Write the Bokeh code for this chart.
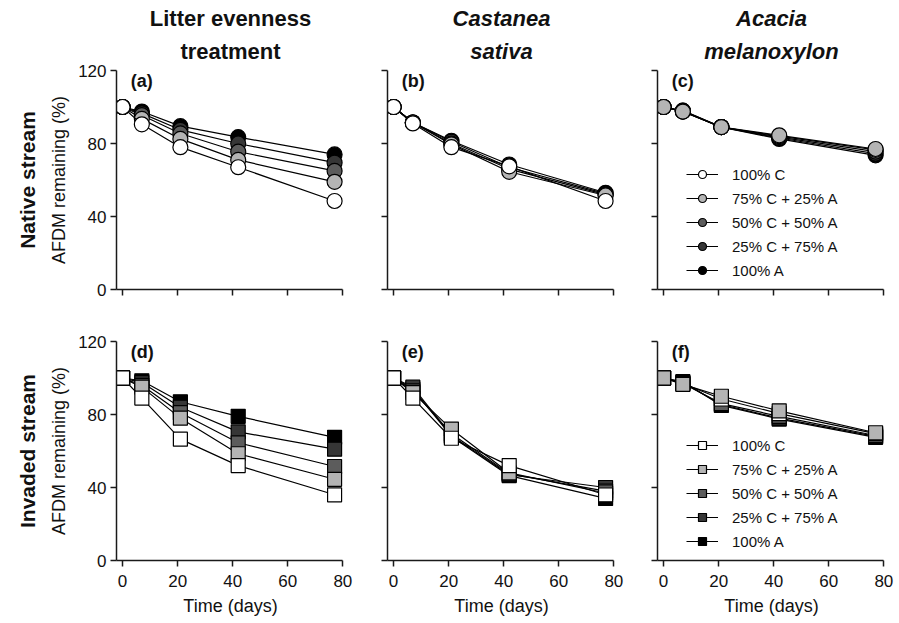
from bokeh.plotting import figure
from bokeh.models import Range1d, FixedTicker, Title, Legend, LegendItem, Label
from bokeh.layouts import row, column
from bokeh.embed import file_html
from bokeh.resources import INLINE

FONT = "Liberation Sans"

days = [0, 7, 21, 42, 77]
series_labels = ["100% C", "75% C + 25% A", "50% C + 50% A", "25% C + 75% A", "100% A"]
fill_colors = ["#ffffff", "#b4b4b4", "#5c5c5c", "#363636", "#000000"]
x_ticks = [0, 20, 40, 60, 80]
y_ticks = [0, 40, 80, 120]
col_titles = [["Litter evenness", "treatment"], ["Castanea", "sativa"], ["Acacia", "melanoxylon"]]
row_titles = ["Native stream", "Invaded stream"]
panel_tags = ["(a)", "(b)", "(c)", "(d)", "(e)", "(f)"]

# Native stream
a_100C = [100, 90.5, 78.0, 67.0, 48.5]
a_75C = [100, 93.5, 82.5, 71.0, 59.0]
a_50C = [100, 95.5, 85.5, 75.5, 65.0]
a_25C = [100, 96.5, 87.5, 80.0, 69.5]
a_100A = [100, 97.5, 89.5, 83.5, 74.0]

b_100C = [100, 91.0, 78.0, 67.5, 48.5]
b_75C = [100, 91.5, 79.5, 64.5, 51.5]
b_50C = [100, 91.5, 80.0, 66.0, 52.0]
b_25C = [100, 91.5, 81.0, 67.0, 52.5]
b_100A = [100, 91.5, 81.5, 68.5, 53.0]

c_100C = [100, 97.5, 89.0, 84.0, 76.5]
c_75C = [100, 97.5, 89.0, 84.5, 77.0]
c_50C = [100, 97.5, 89.0, 83.5, 75.5]
c_25C = [100, 98.0, 89.0, 83.0, 74.5]
c_100A = [100, 98.0, 89.0, 82.5, 73.5]

# Invaded stream
d_100C = [100, 89.0, 66.5, 52.0, 36.0]
d_75C = [100, 95.0, 78.0, 58.5, 44.5]
d_50C = [100, 96.0, 81.0, 64.5, 51.5]
d_25C = [100, 97.5, 84.0, 70.5, 61.0]
d_100A = [100, 98.5, 87.0, 79.0, 67.5]

e_100C = [100, 89.0, 67.0, 52.0, 36.0]
e_75C = [100, 92.0, 72.0, 48.0, 37.0]
e_50C = [100, 93.0, 69.5, 47.5, 38.0]
e_25C = [100, 95.0, 68.5, 47.0, 40.0]
e_100A = [100, 94.0, 68.0, 46.5, 34.0]

f_100C = [100, 97.0, 88.5, 80.5, 69.5]
f_75C = [100, 96.5, 90.0, 82.0, 70.0]
f_50C = [100, 97.0, 86.0, 79.0, 68.5]
f_25C = [100, 97.5, 85.5, 78.0, 68.0]
f_100A = [100, 98.0, 85.0, 77.5, 67.5]

panels = [
    [a_100C, a_75C, a_50C, a_25C, a_100A],
    [b_100C, b_75C, b_50C, b_25C, b_100A],
    [c_100C, c_75C, c_50C, c_25C, c_100A],
    [d_100C, d_75C, d_50C, d_25C, d_100A],
    [e_100C, e_75C, e_50C, e_25C, e_100A],
    [f_100C, f_75C, f_50C, f_25C, f_100A],
]

FRAME_W = 228
FRAME_H = 219
borders_lr = [(116, 21), (22, 21), (21, 9)]
AXIS_COL = "#1a1a1a"


def make_panel(idx):
    r, c = divmod(idx, 3)
    left, right = borders_lr[c]
    top = 70 if r == 0 else 26
    bottom = 26 if r == 0 else 58
    p = figure(width=left + FRAME_W + right, height=top + FRAME_H + bottom,
               x_range=Range1d(-2.2, 80.6), y_range=Range1d(0, 120),
               output_backend="svg", toolbar_location=None,
               min_border_left=left, min_border_right=right,
               min_border_top=top, min_border_bottom=bottom)
    p.outline_line_color = None
    p.grid.grid_line_color = None
    p.background_fill_color = "white"
    p.border_fill_color = "white"

    for ax in (p.xaxis[0], p.yaxis[0]):
        ax.axis_line_width = 1.5
        ax.axis_line_color = AXIS_COL
        ax.major_tick_line_width = 1.5
        ax.major_tick_line_color = AXIS_COL
        ax.major_tick_in = 0
        ax.major_tick_out = 6
        ax.minor_tick_line_color = None
        ax.major_label_text_font = FONT
        ax.major_label_text_font_size = "17px"
        ax.major_label_text_color = "#111111"
        ax.axis_label_text_font = FONT
        ax.axis_label_text_font_style = "normal"
        ax.axis_label_text_font_size = "18px"
        ax.axis_label_text_color = "#111111"

    p.xaxis.ticker = FixedTicker(ticks=x_ticks)
    p.xaxis.bounds = (-2.2, 80)
    p.yaxis.ticker = FixedTicker(ticks=y_ticks)
    p.xaxis.major_label_standoff = 8
    p.yaxis.major_label_standoff = 4

    if r == 1:
        p.xaxis.axis_label = "Time (days)"
        p.xaxis.axis_label_standoff = 6
    else:
        p.xaxis.major_label_overrides = {t: "" for t in x_ticks}
    if c == 0:
        p.yaxis.axis_label = "AFDM remaining (%)"
        p.yaxis.axis_label_standoff = 6
        p.add_layout(Title(text=row_titles[r], align="center", vertical_align="top",
                           text_font=FONT, text_font_size="21px", text_font_style="bold",
                           text_color="#111111", standoff=12), "left")
    else:
        p.yaxis.major_label_overrides = {t: "" for t in y_ticks}

    if r == 0:
        style = "bold" if c == 0 else "bold italic"
        l1, l2 = col_titles[c]
        p.add_layout(Title(text=l2, align="center", text_font=FONT, text_font_size="22px",
                           text_font_style=style, text_color="#111111",
                           text_line_height=0.8, standoff=13), "above")
        p.add_layout(Title(text=l1, align="center", text_font=FONT, text_font_size="22px",
                           text_font_style=style, text_color="#111111",
                           text_line_height=0.8, standoff=0), "above")

    series = panels[idx]
    marker = "circle" if r == 0 else "square"
    msize = 15 if r == 0 else 14
    order = [4, 3, 2, 1, 0] if c != 2 else [4, 3, 2, 0, 1]
    rends = {}
    for k in order:
        lr = p.line(days, series[k], line_color="black", line_width=1.2)
        sr = p.scatter(days, series[k], marker=marker, size=msize,
                       fill_color=fill_colors[k], line_color="black", line_width=1.2)
        rends[k] = (lr, sr)

    p.add_layout(Label(x=3.0, y=119.5, text=panel_tags[idx], text_baseline="top",
                       text_font=FONT, text_font_size="18px", text_font_style="bold",
                       text_color="#111111"))

    if c == 2:
        items = [LegendItem(label=series_labels[k], renderers=list(rends[k])) for k in range(5)]
        leg = Legend(items=items, location=(29, 9))
        leg.border_line_color = None
        leg.background_fill_alpha = 0
        leg.padding = 0
        leg.margin = 0
        leg.spacing = 4
        leg.glyph_width = 32
        leg.glyph_height = 20
        leg.label_height = 20
        leg.label_standoff = 14
        leg.label_text_font = FONT
        leg.label_text_font_size = "15px"
        leg.label_text_color = "#111111"
        p.add_layout(leg)
    return p


figs = [make_panel(i) for i in range(6)]
layout = column(row(*figs[:3]), row(*figs[3:]))

with open("out.html", "w") as fh:
    fh.write(file_html(layout, INLINE))
